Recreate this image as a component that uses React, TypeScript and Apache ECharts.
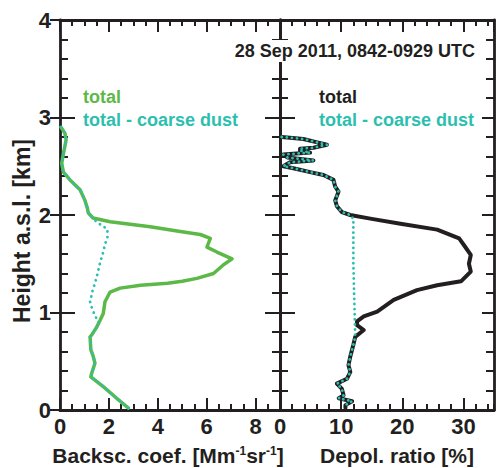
import React, { useEffect, useRef } from "react";
import * as echarts from "echarts";

// ---- data ----
const heightTicks = [0, 1, 2, 3, 4];

const backscTotalX = [0.04, 0.2, 0.25, 0.14, 0.07, 0.14, 0.41, 0.82, 1.02, 1.12, 1.16, 1.35, 2.05, 3.69, 4.92, 5.74, 6.15, 6.01, 6.42, 7.04, 6.69, 6.28, 5.6, 5.0, 4.4, 3.3, 2.46, 2.05, 1.84, 1.77, 1.64, 1.5, 1.3, 1.23, 1.26, 1.36, 1.43, 1.3, 1.26, 1.77, 2.32, 2.8];
const backscTotalH = [2.9, 2.84, 2.77, 2.63, 2.53, 2.44, 2.36, 2.26, 2.15, 2.07, 2.02, 1.97, 1.93, 1.88, 1.83, 1.8, 1.76, 1.67, 1.62, 1.55, 1.49, 1.4, 1.35, 1.32, 1.3, 1.28, 1.25, 1.21, 1.11, 0.99, 0.92, 0.85, 0.77, 0.75, 0.62, 0.55, 0.48, 0.38, 0.34, 0.24, 0.12, 0.02];

const backscFineX = [0.04, 0.2, 0.25, 0.14, 0.07, 0.14, 0.41, 0.82, 1.02, 1.12, 1.16, 1.35, 1.53, 1.75, 1.94, 1.94, 1.84, 1.77, 1.64, 1.5, 1.33, 1.23, 1.31, 1.43, 1.57, 1.5, 1.3, 1.23, 1.26, 1.36, 1.43, 1.3, 1.26, 1.77, 2.32, 2.8];
const backscFineH = [2.9, 2.84, 2.77, 2.63, 2.53, 2.44, 2.36, 2.26, 2.15, 2.07, 2.02, 1.97, 1.92, 1.89, 1.85, 1.77, 1.7, 1.62, 1.51, 1.36, 1.22, 1.11, 1.04, 0.97, 0.9, 0.85, 0.77, 0.75, 0.62, 0.55, 0.48, 0.38, 0.34, 0.24, 0.12, 0.02];

const depolTotalX = [0.28, 3.83, 5.75, 7.67, 5.47, 3.28, 3.28, 4.93, 0.54, 1.2, 5.47, 1.64, 0.54, 2.18, 4.93, 7.11, 8.75, 9.03, 9.57, 9.03, 9.31, 10.13, 11.49, 15.0, 19.7, 25.7, 29.3, 30.1, 31.2, 30.9, 31.2, 29.6, 25.7, 22.4, 18.6, 15.9, 13.7, 12.6, 12.6, 13.7, 12.3, 12.0, 11.5, 11.2, 11.5, 10.95, 9.3, 10.1, 10.4, 9.6, 11.8, 10.7, 10.7];
const depolTotalH = [2.8, 2.78, 2.75, 2.72, 2.69, 2.68, 2.66, 2.64, 2.62, 2.59, 2.56, 2.54, 2.5, 2.48, 2.44, 2.41, 2.36, 2.29, 2.24, 2.15, 2.09, 2.03, 2.0, 1.96, 1.91, 1.85, 1.76, 1.69, 1.59, 1.5, 1.42, 1.32, 1.28, 1.23, 1.13, 1.01, 0.96, 0.91, 0.87, 0.82, 0.75, 0.67, 0.55, 0.46, 0.39, 0.32, 0.27, 0.22, 0.15, 0.12, 0.09, 0.05, 0.02];

const depolFineX = [0.28, 3.83, 5.75, 7.67, 5.47, 3.28, 3.28, 4.93, 0.54, 1.2, 5.47, 1.64, 0.54, 2.18, 4.93, 7.11, 8.75, 9.03, 9.57, 9.03, 9.31, 10.13, 11.49, 12.0, 12.0, 12.2, 12.3, 12.0, 11.5, 11.2, 11.5, 10.95, 9.3, 10.1, 10.4, 9.6, 11.8, 10.7, 10.7];
const depolFineH = [2.8, 2.78, 2.75, 2.72, 2.69, 2.68, 2.66, 2.64, 2.62, 2.59, 2.56, 2.54, 2.5, 2.48, 2.44, 2.41, 2.36, 2.29, 2.24, 2.15, 2.09, 2.03, 2.0, 1.96, 1.5, 1.0, 0.75, 0.67, 0.55, 0.46, 0.39, 0.32, 0.27, 0.22, 0.15, 0.12, 0.09, 0.05, 0.02];

const titleText = "28 Sep 2011, 0842-0929 UTC";
const legendTotal = "total";
const legendFine = "total - coarse dust";

// ---- styles ----
const INK = "#231f20";
const GREEN = "#5cb947";
const TEAL = "#2cbfb0";
const FONT = "Liberation Sans";

const zip = (xs: number[], ys: number[]) => xs.map((x, i) => [x, ys[i]]);

const lineW = 2.8;
const tickW = 2;

function xAxisDef(grid: number, pos: string, max: number, interval: number, len: number, labels: boolean) {
  return {
    gridIndex: grid,
    type: "value",
    position: pos,
    min: 0,
    max,
    interval,
    axisLine: { show: true, onZero: false, lineStyle: { color: INK, width: lineW } },
    axisTick: { show: true, inside: true, length: len, lineStyle: { color: INK, width: tickW } },
    axisLabel: labels
      ? { show: true, margin: 5, showMaxLabel: false, color: INK, fontSize: 22, fontWeight: "bold", fontFamily: FONT }
      : { show: false },
    splitLine: { show: false },
  };
}

function yAxisDef(grid: number, pos: string, inside: boolean, len: number, minor: boolean, labels: boolean, line: boolean) {
  return {
    gridIndex: grid,
    type: "value",
    position: pos,
    min: 0,
    max: 4,
    interval: 1,
    axisLine: { show: line, onZero: false, lineStyle: { color: INK, width: lineW } },
    axisTick: { show: true, inside, length: len, lineStyle: { color: INK, width: tickW } },
    minorTick: { show: minor, splitNumber: 5, length: 8, lineStyle: { color: INK, width: tickW } },
    axisLabel: labels
      ? {
          show: true,
          margin: 9,
          color: INK,
          fontSize: 22,
          fontWeight: "bold",
          fontFamily: FONT,
          formatter: (v: number) => (heightTicks.includes(v) ? String(v) : ""),
        }
      : { show: false },
    splitLine: { show: false },
    minorSplitLine: { show: false },
  };
}

export default function App() {
  const ref = useRef<HTMLDivElement>(null);
  useEffect(() => {
    if (!ref.current) return;
    const chart = echarts.init(ref.current, null, { renderer: "svg" });
    const option: any = {
      animation: false,
      backgroundColor: "#ffffff",
      grid: [
        { left: 60, top: 20, width: 220, height: 390 },
        { left: 280, top: 20, width: 214, height: 390 },
      ],
      xAxis: [
        xAxisDef(0, "bottom", 9, 2, 12, true),
        xAxisDef(0, "bottom", 9, 0.5, 6, false),
        xAxisDef(0, "top", 9, 2, 12, false),
        xAxisDef(0, "top", 9, 0.5, 6, false),
        xAxisDef(1, "bottom", 35, 10, 12, true),
        xAxisDef(1, "bottom", 35, 2, 6, false),
        xAxisDef(1, "top", 35, 10, 12, false),
        xAxisDef(1, "top", 35, 2, 6, false),
      ],
      yAxis: [
        yAxisDef(0, "left", true, 15, true, true, true),
        yAxisDef(0, "left", false, 10, false, false, false),
        yAxisDef(0, "right", true, 15, true, false, true),
        yAxisDef(1, "left", true, 15, true, false, true),
        yAxisDef(1, "right", true, 12, true, false, true),
      ],
      series: [
        {
          type: "line",
          xAxisIndex: 0,
          yAxisIndex: 0,
          data: zip(backscTotalX, backscTotalH),
          showSymbol: false,
          symbol: "none",
          lineStyle: { color: GREEN, width: 3.5, join: "round", cap: "round" },
          z: 3,
        },
        {
          type: "line",
          xAxisIndex: 0,
          yAxisIndex: 0,
          data: zip(backscFineX, backscFineH),
          showSymbol: false,
          symbol: "none",
          lineStyle: { color: TEAL, width: 2.8, type: [0.1, 5.5], cap: "round", join: "round" },
          z: 4,
        },
        {
          type: "line",
          xAxisIndex: 4,
          yAxisIndex: 3,
          data: zip(depolTotalX, depolTotalH),
          showSymbol: false,
          symbol: "none",
          lineStyle: { color: INK, width: 4, join: "round", cap: "round" },
          z: 3,
        },
        {
          type: "line",
          xAxisIndex: 4,
          yAxisIndex: 3,
          data: zip(depolFineX, depolFineH),
          showSymbol: false,
          symbol: "none",
          lineStyle: { color: TEAL, width: 2.8, type: [0.1, 5], cap: "round", join: "round" },
          z: 4,
        },
      ],
      graphic: [
        {
          type: "text",
          x: 477,
          y: 51,
          z: 100,
          style: {
            text: titleText,
            align: "right",
            verticalAlign: "middle",
            fill: INK,
            fontSize: 18,
            fontWeight: "bold",
            fontFamily: FONT,
            backgroundColor: "#ffffff",
            padding: [2, 2, 2, 2],
          },
        },
        {
          type: "text",
          x: 83,
          y: 97,
          style: { text: legendTotal, align: "left", verticalAlign: "middle", fill: GREEN, fontSize: 18, fontWeight: "bold", fontFamily: FONT },
        },
        {
          type: "text",
          x: 83,
          y: 120,
          style: { text: legendFine, align: "left", verticalAlign: "middle", fill: TEAL, fontSize: 18, fontWeight: "bold", fontFamily: FONT },
        },
        {
          type: "text",
          x: 319,
          y: 97,
          style: { text: legendTotal, align: "left", verticalAlign: "middle", fill: INK, fontSize: 18, fontWeight: "bold", fontFamily: FONT },
        },
        {
          type: "text",
          x: 319,
          y: 120,
          style: { text: legendFine, align: "left", verticalAlign: "middle", fill: TEAL, fontSize: 18, fontWeight: "bold", fontFamily: FONT },
        },
        {
          type: "text",
          x: 22,
          y: 231,
          rotation: Math.PI / 2,
          style: { text: "Height a.s.l. [km]", align: "center", verticalAlign: "middle", fill: INK, fontSize: 23, fontWeight: "bold", fontFamily: FONT },
        },
        {
          type: "text",
          x: 168,
          y: 455,
          style: {
            text: "{a|Backsc. coef. [Mm}{s|-1}{a|sr}{s|-1}{a|]}",
            align: "center",
            verticalAlign: "middle",
            fill: INK,
            fontFamily: FONT,
            rich: {
              a: { fontSize: 21, fontWeight: "bold", fontFamily: FONT, fill: INK, verticalAlign: "bottom" },
              s: { fontSize: 12, fontWeight: "bold", fontFamily: FONT, fill: INK, verticalAlign: "top" },
            },
          },
        },
        {
          type: "text",
          x: 397,
          y: 455,
          style: { text: "Depol. ratio [%]", align: "center", verticalAlign: "middle", fill: INK, fontSize: 21, fontWeight: "bold", fontFamily: FONT },
        },
      ],
    };
    chart.setOption(option);
    return () => chart.dispose();
  }, []);
  return (
    <div
      ref={ref}
      style={{ position: "fixed", left: 0, top: 0, width: 498, height: 468, background: "#fff" }}
    />
  );
}
